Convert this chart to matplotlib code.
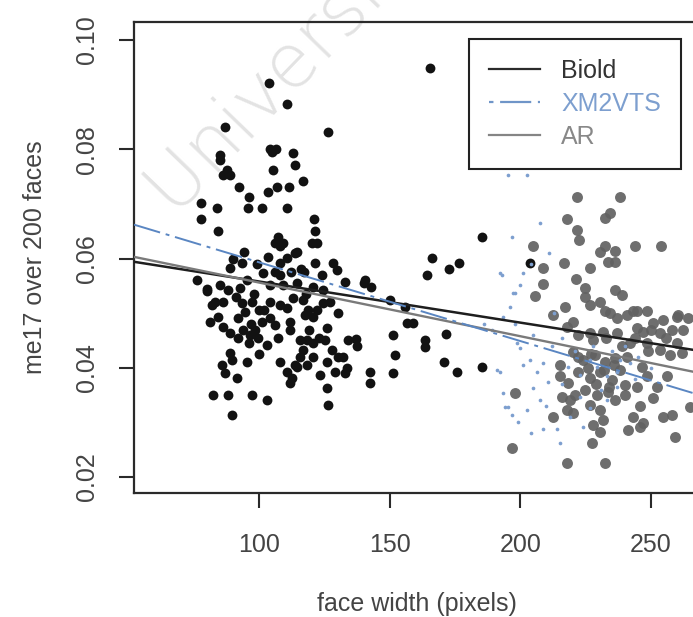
import numpy as np
import matplotlib.pyplot as plt
from matplotlib.lines import Line2D
from matplotlib.ticker import FormatStrFormatter

plt.rcParams['font.family'] = ['Liberation Sans', 'DejaVu Sans']

# Biold database (black points)
biold_x = [103.8, 110.7, 87.0, 126.4, 104.2, 106.5, 105.0, 113.0, 113.8, 85.0,
           85.0, 87.7, 86.2, 88.9, 105.4, 116.9, 92.3, 106.9, 103.4, 111.5,
           96.2, 95.8, 101.1, 110.7, 77.8, 77.8, 83.9, 84.3, 121.0, 121.5,
           120.3, 122.2, 107.0, 109.0, 106.0, 108.0, 94.0, 114.6, 93.5, 103.4,
           108.0, 110.7, 113.8, 121.5, 128.4, 129.9, 133.0, 140.6, 76.2, 88.9,
           101.5, 108.0, 85.0, 88.0, 92.7, 95.4, 104.2, 109.2, 114.6, 120.7,
           124.5, 83.1, 93.5, 97.3, 94.6, 104.2, 108.0, 110.7, 116.9, 118.8,
           122.2, 124.5, 120.7, 117.6, 81.2, 84.3, 86.2, 88.9, 92.0, 93.9,
           96.6, 98.5, 101.1, 104.2, 111.9, 111.9, 103.1, 88.9, 89.7, 85.8,
           87.0, 95.4, 91.6, 126.0, 134.1, 125.3, 128.0, 130.3, 132.2, 115.7,
           118.4, 120.7, 116.9, 115.7, 120.7, 118.4, 114.6, 108.0, 110.7, 112.6,
           111.9, 113.8, 126.0, 123.4, 129.1, 133.7, 133.0, 126.0, 126.4, 142.5,
           142.5, 82.4, 88.1, 97.3, 103.1, 89.7, 165.5, 185.4, 166.3, 164.4,
           172.8, 176.6, 150.2, 155.9, 156.7, 159.0, 151.3, 152.1, 151.3, 163.6,
           163.6, 171.6, 170.9, 175.9, 185.4, 203.8, 137.0, 137.5, 97.0, 99.5,
           91.0, 100.0, 106.0, 117.0, 80.0, 82.0, 140.0, 143.0, 98.0, 102.0,
           106.0, 113.0, 118.0, 123.0, 96.0, 100.0, 107.0, 119.0, 92.0, 86.0,
           80.0, 112.0, 116.0, 124.0, 127.0, 130.0, 99.0, 90.0]
biold_y = [0.0921, 0.0883, 0.0841, 0.0832, 0.0801, 0.0801, 0.0795, 0.0793, 0.0771, 0.0790,
           0.0780, 0.0762, 0.0753, 0.0753, 0.0762, 0.0742, 0.0731, 0.0731, 0.0722, 0.0731,
           0.0713, 0.0693, 0.0693, 0.0693, 0.0702, 0.0673, 0.0693, 0.0651, 0.0673, 0.0651,
           0.0629, 0.0629, 0.0640, 0.0629, 0.0629, 0.0622, 0.0612, 0.0612, 0.0592, 0.0603,
           0.0592, 0.0601, 0.0610, 0.0592, 0.0592, 0.0579, 0.0557, 0.0561, 0.0561, 0.0583,
           0.0574, 0.0570, 0.0552, 0.0543, 0.0546, 0.0561, 0.0552, 0.0552, 0.0556, 0.0548,
           0.0543, 0.0521, 0.0519, 0.0521, 0.0502, 0.0521, 0.0515, 0.0510, 0.0524, 0.0506,
           0.0506, 0.0519, 0.0493, 0.0497, 0.0484, 0.0493, 0.0475, 0.0464, 0.0492, 0.0470,
           0.0460, 0.0470, 0.0484, 0.0492, 0.0484, 0.0470, 0.0442, 0.0427, 0.0415, 0.0405,
           0.0391, 0.0411, 0.0382, 0.0473, 0.0451, 0.0451, 0.0433, 0.0420, 0.0420, 0.0451,
           0.0451, 0.0446, 0.0433, 0.0420, 0.0420, 0.0405, 0.0402, 0.0411, 0.0393, 0.0382,
           0.0373, 0.0405, 0.0411, 0.0387, 0.0393, 0.0400, 0.0391, 0.0363, 0.0332, 0.0393,
           0.0373, 0.0351, 0.0351, 0.0351, 0.0341, 0.0314, 0.0949, 0.0640, 0.0601, 0.0570,
           0.0581, 0.0592, 0.0524, 0.0512, 0.0482, 0.0482, 0.0460, 0.0424, 0.0391, 0.0451,
           0.0438, 0.0462, 0.0411, 0.0393, 0.0402, 0.0592, 0.0452, 0.0440, 0.0480, 0.0455,
           0.0530, 0.0505, 0.0575, 0.0575, 0.0545, 0.0515, 0.0555, 0.0548, 0.0535, 0.0505,
           0.0478, 0.0528, 0.0535, 0.0455, 0.0445, 0.0425, 0.0455, 0.0470, 0.0455, 0.0520,
           0.0540, 0.0575, 0.0580, 0.0570, 0.0520, 0.0500, 0.0590, 0.0600]

# XM2VTS database (small blue dots)
xm_x = [196.2, 198.9, 200.0, 192.3, 194.3, 196.9, 201.1, 203.8, 206.5, 208.8,
        210.7, 205.0, 207.7, 202.7, 208.8, 214.2, 215.3, 218.4, 223.0, 226.8,
        229.5, 233.3, 237.2, 238.3, 242.1, 223.0, 226.8, 233.3, 219.2, 224.1,
        237.2, 195.4, 202.7, 207.7, 196.9, 193.1, 200.0, 198.1, 201.1, 192.3,
        197.3, 193.5, 191.2, 193.5, 195.5, 189.0, 186.0, 205.0, 212.0, 216.0,
        221.0, 228.0, 235.0, 240.0, 245.0, 213.0, 199.0, 204.0, 210.0, 216.0,
        231.0, 244.0, 250.0, 198.0, 211.0, 204.0]
xm_y = [0.0512, 0.0446, 0.0437, 0.0393, 0.0329, 0.0314, 0.0405, 0.0415, 0.0393, 0.0409,
        0.0374, 0.0363, 0.0341, 0.0323, 0.0287, 0.0287, 0.0263, 0.0402, 0.0387, 0.0415,
        0.0402, 0.0384, 0.0393, 0.0415, 0.0409, 0.0347, 0.0327, 0.0341, 0.0310, 0.0292,
        0.0365, 0.0753, 0.0753, 0.0665, 0.0640, 0.0570, 0.0552, 0.0537, 0.0574, 0.0574,
        0.0537, 0.0493, 0.0396, 0.0354, 0.0329, 0.0470, 0.0480, 0.0460, 0.0440, 0.0455,
        0.0430, 0.0440, 0.0430, 0.0440, 0.0420, 0.0500, 0.0300, 0.0280, 0.0330, 0.0370,
        0.0360, 0.0380, 0.0400, 0.0480, 0.0610, 0.0590]

# AR database (grey points)
ar_x = [221.8, 238.3, 218.0, 232.6, 234.5, 221.8, 222.6, 205.0, 208.8, 216.9,
        226.8, 230.7, 232.6, 236.4, 233.7, 236.4, 244.1, 254.0, 221.5, 208.8,
        205.7, 224.9, 224.9, 236.4, 239.1, 217.2, 212.6, 226.8, 230.7, 232.6,
        243.3, 248.7, 260.5, 220.3, 234.5, 237.2, 241.0, 244.8, 254.8, 260.2,
        244.8, 247.1, 251.0, 253.6, 258.2, 260.2, 262.1, 257.5, 253.6, 218.0,
        222.2, 226.8, 231.8, 237.2, 242.1, 248.7, 220.3, 224.1, 228.7, 232.6,
        236.4, 222.2, 226.8, 230.7, 235.2, 238.3, 224.9, 229.5, 233.7, 221.1,
        226.8, 230.7, 236.4, 218.4, 215.3, 240.2, 215.3, 216.1, 219.2, 246.7,
        248.7, 244.8, 252.5, 256.3, 243.3, 247.1, 241.4, 246.0, 254.8, 258.2,
        265.1, 259.4, 231.8, 228.0, 230.7, 227.6, 220.3, 218.0, 212.6, 198.1,
        196.9, 218.0, 232.6, 262.5, 264.4, 228.0, 233.0, 239.0, 226.0, 232.0,
        236.0, 229.0, 234.0, 241.0, 222.0, 227.0, 244.0, 250.0, 256.0, 249.0,
        240.0, 251.0, 246.0]
ar_y = [0.0713, 0.0713, 0.0673, 0.0675, 0.0684, 0.0653, 0.0633, 0.0622, 0.0583, 0.0592,
        0.0583, 0.0612, 0.0623, 0.0614, 0.0594, 0.0594, 0.0622, 0.0622, 0.0563, 0.0554,
        0.0532, 0.0546, 0.0530, 0.0543, 0.0534, 0.0512, 0.0497, 0.0515, 0.0521, 0.0503,
        0.0503, 0.0503, 0.0497, 0.0484, 0.0501, 0.0492, 0.0497, 0.0503, 0.0488, 0.0493,
        0.0473, 0.0466, 0.0482, 0.0464, 0.0470, 0.0446, 0.0427, 0.0424, 0.0433, 0.0475,
        0.0460, 0.0464, 0.0466, 0.0464, 0.0446, 0.0446, 0.0429, 0.0415, 0.0424, 0.0411,
        0.0418, 0.0393, 0.0382, 0.0393, 0.0378, 0.0396, 0.0360, 0.0351, 0.0356, 0.0351,
        0.0332, 0.0323, 0.0341, 0.0373, 0.0405, 0.0369, 0.0384, 0.0347, 0.0341, 0.0402,
        0.0384, 0.0365, 0.0365, 0.0384, 0.0310, 0.0299, 0.0286, 0.0292, 0.0310, 0.0314,
        0.0329, 0.0274, 0.0305, 0.0296, 0.0283, 0.0263, 0.0318, 0.0323, 0.0310, 0.0354,
        0.0254, 0.0226, 0.0226, 0.0470, 0.0492, 0.0450, 0.0455, 0.0440, 0.0400, 0.0395,
        0.0405, 0.0370, 0.0365, 0.0420, 0.0420, 0.0425, 0.0455, 0.0470, 0.0455, 0.0430,
        0.0350, 0.0345, 0.0330]

# regression lines, read at the two ends
fit_x = [52, 266]
biold_fit = [0.0594, 0.0433]
xm_fit = [0.0662, 0.0354]
ar_fit = [0.0603, 0.0393]

labels = ['Biold', 'XM2VTS', 'AR']
colors = ['#2b2b2b', '#6f95c8', '#858585']

fig = plt.figure(figsize=(6.93, 6.17), dpi=100)
# scanned-page watermark
fig.text(175/693, 1 - 217/617, 'University of Cape Town', rotation=46,
         rotation_mode='anchor', ha='left', va='baseline', family='DejaVu Sans',
         fontweight='light', fontsize=54, color='#e3e3e3', zorder=-1)

ax = fig.add_axes([134/693, 124/617, 566/693, 471/617])
ax.patch.set_alpha(0)

ax.scatter(biold_x, biold_y, s=50, c='#121212', lw=0, zorder=2)
ax.scatter(ar_x, ar_y, s=62, c='#626262', lw=0, alpha=0.92, zorder=2)
ax.scatter(xm_x, xm_y, s=7, c='#7d9fcf', lw=0, zorder=3)

ax.axline((fit_x[0], biold_fit[0]), (fit_x[1], biold_fit[1]), color='#1e1e1e', lw=1.8, zorder=4)
ax.axline((fit_x[0], ar_fit[0]), (fit_x[1], ar_fit[1]), color='#7a7a7a', lw=1.7, zorder=4)
ax.axline((fit_x[0], xm_fit[0]), (fit_x[1], xm_fit[1]), color='#5a86c2', lw=1.4,
          ls=(0, (14, 3, 2, 3)), zorder=4)

ax.set_xlim(52, 268.9)
ax.set_ylim(0.01707, 0.1033)
ax.set_xticks([100, 150, 200, 250])
ax.set_yticks([0.02, 0.04, 0.06, 0.08, 0.10])
ax.yaxis.set_major_formatter(FormatStrFormatter('%.2f'))
for sp in ax.spines.values():
    sp.set_linewidth(1.6)
    sp.set_color('#2a2a2a')
ax.tick_params(length=11, width=1.5, labelsize=18, colors='#2a2a2a', labelcolor='#444444')
ax.tick_params(axis='x', pad=18)
ax.tick_params(axis='y', pad=14)
for lab in ax.get_yticklabels():
    lab.set_rotation(90)
    lab.set_va('center')

ax.set_xlabel('face width (pixels)', fontsize=18, color='#444444', labelpad=25)
ax.set_ylabel('me17 over 200 faces', fontsize=18, color='#444444', labelpad=20)

handles = [Line2D([], [], color=colors[0], lw=1.6),
           Line2D([], [], color=colors[1], lw=1.6, ls=(0, (2, 3, 14, 3))),
           Line2D([], [], color=colors[2], lw=1.6)]
leg = ax.legend(handles, labels, loc='upper right', bbox_to_anchor=(681/693, 1 - 39/617),
                bbox_transform=fig.transFigure, fontsize=18, fancybox=False,
                edgecolor='#222222', framealpha=1, borderaxespad=0, handlelength=2.05,
                handletextpad=0.85, labelspacing=0.36, borderpad=0.8)
leg.get_frame().set_linewidth(1.5)
for t, c in zip(leg.get_texts(), ['#333333', '#7d9fcf', '#888888']):
    t.set_color(c)

fig.savefig('out.png', dpi=100)
